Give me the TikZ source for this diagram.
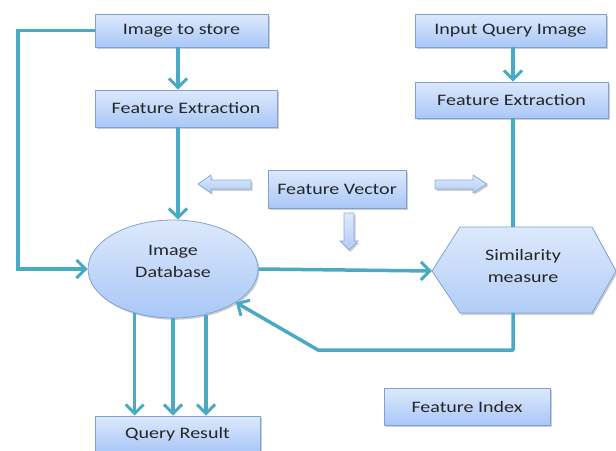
\documentclass[tikz,border=0pt]{standalone}
\usepackage{fontspec}
\setmainfont{Carlito}[FakeStretch=1.25]
\usetikzlibrary{arrows.meta,shapes.geometric,shadows,backgrounds}

\definecolor{boxtop}{HTML}{DDE9FC}
\definecolor{boxbot}{HTML}{A9C7F7}
\definecolor{boxline}{HTML}{7EA2D8}
\definecolor{flow}{HTML}{4AAAC4}

\tikzset{
  soft/.style={drop shadow={shadow xshift=1.5pt, shadow yshift=-1.8pt, opacity=0.35, fill=black!55}},
  box/.style={rectangle, draw=boxline, line width=0.8pt, top color=boxtop, bottom color=boxbot,
    inner sep=0pt, font=\fontsize{16}{18}\selectfont, text=black!85, soft},
  lbl/.style={inner sep=0pt, align=center, font=\fontsize{16}{22}\selectfont, text=black!85},
  flowline/.style={draw=flow, line width=3.5pt},
  arr/.style={flowline, -{Straight Barb[length=9pt,width=18pt,line width=3pt]}},
  hollow/.style={draw=boxline!90, line width=0.8pt, top color=boxtop, bottom color=boxbot!90, soft},
}

\begin{document}
\begin{tikzpicture}[x=1pt,y=-1pt]
\useasboundingbox (0,0) rectangle (616,450);

% rectangular steps
\node[box, minimum width=173, minimum height=33] (is)  at (181.5,30.5) {Image to store};
\node[box, minimum width=182, minimum height=37] (fe1) at (186,108.5) {Feature Extraction};
\node[box, minimum width=191, minimum height=33] (iq)  at (510.5,30.5) {Input Query Image};
\node[box, minimum width=193, minimum height=36] (fe2) at (511.5,100) {Feature Extraction};
\node[box, minimum width=138, minimum height=38] (fv)  at (337,189) {Feature Vector};
\node[box, minimum width=165, minimum height=36] (qr)  at (177.5,434) {Query Result};
\node[box, minimum width=166, minimum height=37] (fi)  at (467,406.5) {Feature Index};

% image database
\node[ellipse, draw=boxline, line width=0.8pt, top color=boxtop, bottom color=boxbot, soft,
      minimum width=170, minimum height=98, inner sep=0pt] (db) at (173,269) {};
\node[lbl] (dbl) at (173,261) {Image\\Database};

% similarity measure hexagon
\coordinate (simw) at (432,271);
\coordinate (simn) at (513,227);
\coordinate (sims) at (513,313);
\path[hollow, draw=boxline] (simw) -- (460,227) -- (592,227) -- (616,271) -- (592,313) -- (460,313) -- cycle;
\node[lbl] (sim) at (523,266) {Similarity\\measure};

% hollow block arrows around the feature vector
\path[hollow] (251,180) -- (211,180) -- (211,175) -- (198,184) -- (211,193) -- (211,189) -- (251,189) -- cycle;
\path[hollow] (435,180) -- (473,180) -- (473,175) -- (487,184) -- (473,193) -- (473,189) -- (435,189) -- cycle;
\path[hollow] (344,213) -- (354,213) -- (354,241) -- (358,241) -- (349,250) -- (340,241) -- (344,241) -- cycle;

% connectors
\coordinate (lx) at (178,0);
\coordinate (rx) at (18,0);
\draw[arr] (is.south -| lx) -- (fe1.north -| lx);
\draw[arr] (fe1.south -| lx) -- (db.north -| lx);
\draw[arr] (is.west) -- (is.west -| rx) |- (db.west);
\draw[arr] (iq.south -| simn) -- (fe2.north -| simn);
\draw[flowline] (fe2.south -| simn) -- (simn);
\draw[arr] (db.east) -- (simw);
\coordinate (bend) at (318,350);
\draw[arr, line join=round] (sims) -- (sims |- bend) -- (bend) -- (db.-28);
\draw[arr] (db.229) -- (db.229 |- qr.north);
\draw[arr] (db.south) -- (db.south |- qr.north);
\draw[arr] (db.306) -- (db.306 |- qr.north);
\end{tikzpicture}
\end{document}
